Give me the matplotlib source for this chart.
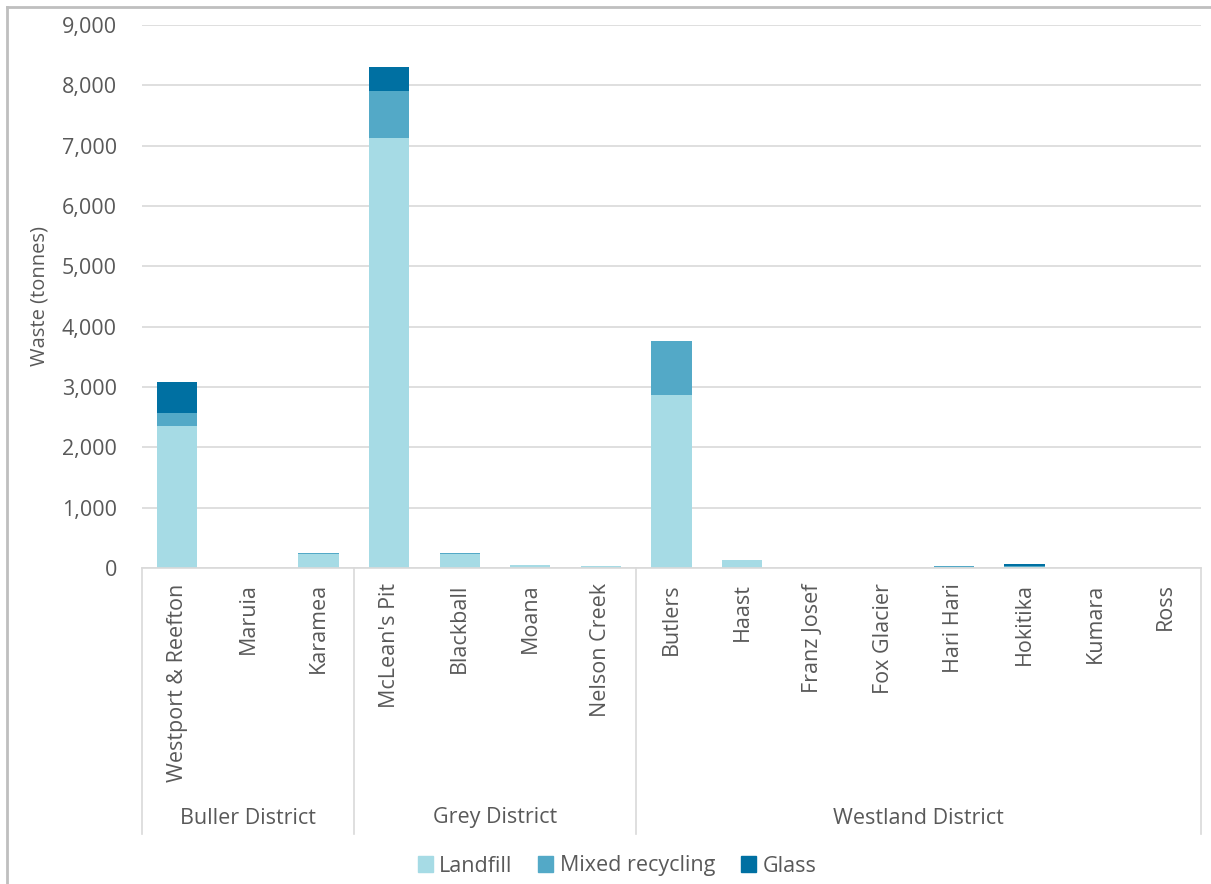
import matplotlib.pyplot as plt
from matplotlib.patches import Patch
from matplotlib.lines import Line2D
from matplotlib.ticker import FuncFormatter
import matplotlib.transforms as mtransforms

plt.rcParams['font.family'] = ['Open Sans', 'DejaVu Sans']

# 站点与分组
sites = ["Westport & Reefton", "Maruia", "Karamea",
         "McLean's Pit", "Blackball", "Moana", "Nelson Creek",
         "Butlers", "Haast", "Franz Josef", "Fox Glacier", "Hari Hari",
         "Hokitika", "Kumara", "Ross"]
districts = ["Buller District", "Grey District", "Westland District"]
district_sizes = [3, 4, 8]

# 各类废弃物（吨）
landfill = [2360, 0, 228, 7120, 228, 55, 25, 2870, 125, 0, 0, 10, 10, 5, 5]
mixed = [210, 0, 15, 790, 15, 0, 8, 900, 0, 0, 0, 28, 25, 0, 0]
glass = [510, 0, 0, 390, 0, 0, 0, 0, 0, 0, 0, 0, 30, 0, 0]

c_land = '#A6DBE5'
c_mixed = '#53A9C7'
c_glass = '#0070A2'
grey_txt = '#595959'
line_c = '#D9D9D9'
fs = 15.5

fig = plt.figure(figsize=(12.11, 8.84), dpi=100)
ax = fig.add_axes([142 / 1211, (884 - 568) / 884, 1059 / 1211, 543 / 884])

x = list(range(len(sites)))
w = 0.57
bottom2 = [a + b for a, b in zip(landfill, mixed)]
ax.bar(x, landfill, w, color=c_land, zorder=3)
ax.bar(x, mixed, w, bottom=landfill, color=c_mixed, zorder=3)
ax.bar(x, glass, w, bottom=bottom2, color=c_glass, zorder=3)

ax.set_xlim(-0.5, len(sites) - 0.5)
ax.set_ylim(0, 9000)
ax.set_yticks(range(0, 9001, 1000))
ax.yaxis.set_major_formatter(FuncFormatter(lambda v, p: f'{int(v):,}'))
ax.grid(axis='y', color=line_c, lw=1.2, zorder=0)
for s in ['top', 'right', 'left']:
    ax.spines[s].set_visible(False)
ax.spines['bottom'].set_color(line_c)
ax.spines['bottom'].set_linewidth(1.2)
ax.spines['bottom'].set_zorder(4)

ax.set_xticks(x)
ax.set_xticklabels(sites, rotation=90, va='top', ha='center')
ax.tick_params(axis='x', length=0, pad=11, labelsize=fs, colors=grey_txt)
ax.tick_params(axis='y', length=0, pad=18, labelsize=fs, colors=grey_txt)
ax.set_ylabel('Waste (tonnes)', fontsize=14.5, color=grey_txt, labelpad=9)

# 分组分隔线和分组名
trans = mtransforms.blended_transform_factory(ax.transData, ax.transAxes)
ybot = (568 - 834) / 543
ylab = (568 - 818) / 543
start = -0.5
ax.plot([start, start], [0, ybot], color=line_c, lw=1.2, transform=trans, clip_on=False)
for name, n in zip(districts, district_sizes):
    end = start + n
    ax.plot([end, end], [0, ybot], color=line_c, lw=1.2, transform=trans, clip_on=False)
    ax.text((start + end) / 2, ylab, name, transform=trans, ha='center', va='center',
            fontsize=fs, color=grey_txt)
    start = end

handles = [Patch(color=c_land, label='Landfill'),
           Patch(color=c_mixed, label='Mixed recycling'),
           Patch(color=c_glass, label='Glass')]
leg = fig.legend(handles=handles, loc='center', bbox_to_anchor=(617 / 1211, 1 - 866 / 884),
                 ncol=3, frameon=False, fontsize=fs, handlelength=0.7, handleheight=0.7,
                 handletextpad=0.3, columnspacing=1.2)
for t in leg.get_texts():
    t.set_color(grey_txt)

# 外框
fig.add_artist(Line2D([7 / 1211, 7 / 1211], [0, 1 - 7 / 884], color='#BFBFBF', lw=2))
fig.add_artist(Line2D([7 / 1211, 1], [1 - 7 / 884, 1 - 7 / 884], color='#BFBFBF', lw=2))

fig.savefig('out.png', dpi=100)
